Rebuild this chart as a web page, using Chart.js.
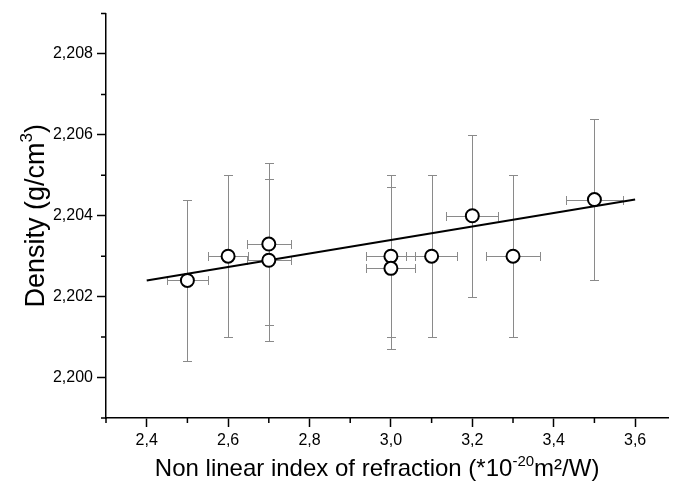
<!DOCTYPE html>
<html><head><meta charset="utf-8">
<script src="https://cdn.jsdelivr.net/npm/chart.js@4.4.1/dist/chart.umd.min.js"></script>
<style>html,body{margin:0;padding:0;background:#fff;} #wrap{width:677px;height:493px;}</style>
</head><body><div id="wrap"><canvas id="c" width="677" height="493"></canvas></div>
<script>
// Data
const nonLinearIndex = [2.5, 2.6, 2.7, 2.7, 3.0, 3.0, 3.1, 3.2, 3.3, 3.5];
const density        = [2.2024, 2.2030, 2.2033, 2.2029, 2.2030, 2.2027, 2.2030, 2.2040, 2.2030, 2.2044];
const densityErr     = [0.002, 0.002, 0.002, 0.002, 0.002, 0.002, 0.002, 0.002, 0.002, 0.002];
const indexErr       = [0.05, 0.05, 0.054, 0.054, 0.06, 0.06, 0.062, 0.064, 0.066, 0.07];
const fitX = [2.4, 3.6];
const fitY = [2.2024, 2.2044];
const xAxisMin = 2.3, xAxisMax = 3.682, xStep = 0.1;
const yAxisMin = 2.199, yAxisMax = 2.209, yStep = 0.001;
// Axis titles: [text, isSuperscript]
const xTitleParts = [['Non linear index of refraction (*10', false], ['-20', true], ['m\u00B2/W)', false]];
const yTitleParts = [['Density (g/cm', false], ['3', true], [')', false]];

const FONT = "'Liberation Sans', Arial, sans-serif";
const isMajorX = v => Math.round(v * 10) % 2 === 0;
const isMajorY = v => Math.round(v * 1000) % 2 === 0;

const errorBars = {
  id: 'errorBars',
  beforeDatasetsDraw(chart) {
    const xs = chart.scales.x, ys = chart.scales.y, ctx = chart.ctx;
    ctx.save();
    ctx.strokeStyle = '#8a8a8a';
    ctx.lineWidth = 1;
    const cap = 4.5;
    const r = v => Math.round(v) + 0.5;
    for (let i = 0; i < nonLinearIndex.length; i++) {
      const px = r(xs.getPixelForValue(nonLinearIndex[i]));
      const py = r(ys.getPixelForValue(density[i]));
      const yt = r(ys.getPixelForValue(density[i] + densityErr[i]));
      const yb = r(ys.getPixelForValue(density[i] - densityErr[i]));
      const xl = r(xs.getPixelForValue(nonLinearIndex[i] - indexErr[i]));
      const xr = r(xs.getPixelForValue(nonLinearIndex[i] + indexErr[i]));
      ctx.beginPath();
      ctx.moveTo(px, yt); ctx.lineTo(px, yb);
      ctx.moveTo(px - cap, yt); ctx.lineTo(px + cap, yt);
      ctx.moveTo(px - cap, yb); ctx.lineTo(px + cap, yb);
      ctx.moveTo(xl, py); ctx.lineTo(xr, py);
      ctx.moveTo(xl, py - cap); ctx.lineTo(xl, py + cap);
      ctx.moveTo(xr, py - cap); ctx.lineTo(xr, py + cap);
      ctx.stroke();
    }
    ctx.restore();
  }
};

const minorTicks = {
  id: 'minorTicks',
  afterDraw(chart) {
    const xs = chart.scales.x, ys = chart.scales.y, ctx = chart.ctx, a = chart.chartArea;
    ctx.save();
    ctx.strokeStyle = '#000';
    ctx.lineWidth = 1.5;
    ctx.beginPath();
    xs.ticks.forEach(t => {
      if (!isMajorX(t.value)) {
        const p = xs.getPixelForValue(t.value);
        ctx.moveTo(p, a.bottom); ctx.lineTo(p, a.bottom + 5);
      }
    });
    ys.ticks.forEach(t => {
      if (!isMajorY(t.value)) {
        const p = ys.getPixelForValue(t.value);
        ctx.moveTo(a.left, p); ctx.lineTo(a.left - 5, p);
      }
    });
    ctx.stroke();
    ctx.restore();
  }
};

function drawRich(ctx, parts, size) {
  const supSize = Math.round(size * 0.62);
  let total = 0;
  const widths = parts.map(([t, sup]) => {
    ctx.font = (sup ? supSize : size) + 'px ' + FONT;
    const w = ctx.measureText(t).width; total += w; return w;
  });
  let x = -total / 2;
  const base = size * 0.36;
  parts.forEach(([t, sup], i) => {
    ctx.font = (sup ? supSize : size) + 'px ' + FONT;
    ctx.fillText(t, x, sup ? base - size * 0.42 : base);
    x += widths[i];
  });
}

const axisTitles = {
  id: 'axisTitles',
  afterDraw(chart) {
    const ctx = chart.ctx, a = chart.chartArea;
    ctx.save();
    ctx.fillStyle = '#000';
    ctx.textBaseline = 'alphabetic';
    ctx.textAlign = 'left';
    ctx.save();
    ctx.translate(a.left + (a.right - a.left) * 0.482, 467);
    drawRich(ctx, xTitleParts, 24);
    ctx.restore();
    ctx.save();
    ctx.translate(34, (a.top + a.bottom) / 2);
    ctx.rotate(-Math.PI / 2);
    drawRich(ctx, yTitleParts, 27);
    ctx.restore();
    ctx.restore();
  }
};

const chart = new Chart(document.getElementById('c'), {
  type: 'scatter',
  data: {
    datasets: [
      {
        label: 'Density',
        data: nonLinearIndex.map((x, i) => ({x, y: density[i]})),
        pointRadius: 6.5,
        pointBorderWidth: 2,
        pointBorderColor: '#000',
        pointBackgroundColor: '#fff',
        order: 0
      },
      {
        label: 'Fit',
        data: fitX.map((x, i) => ({x, y: fitY[i]})),
        showLine: true,
        borderColor: '#000',
        borderWidth: 2,
        pointRadius: 0,
        order: 1
      }
    ]
  },
  options: {
    responsive: false,
    animation: false,
    devicePixelRatio: 1,
    layout: { padding: { top: 13, right: 0, left: 0, bottom: 0 } },
    plugins: { legend: { display: false }, tooltip: { enabled: false } },
    scales: {
      x: {
        type: 'linear',
        min: xAxisMin, max: xAxisMax,
        border: { display: true, color: '#000', width: 1.5 },
        grid: {
          drawOnChartArea: false, drawTicks: true, tickLength: 9, tickWidth: 1.5,
          tickColor: c => (c.tick && isMajorX(c.tick.value)) ? '#000' : 'rgba(0,0,0,0)'
        },
        ticks: {
          stepSize: xStep, includeBounds: false, autoSkip: false, maxRotation: 0,
          padding: 4, color: '#000', font: { family: FONT, size: 16 },
          callback: v => isMajorX(v) ? v.toFixed(1).replace('.', ',') : ''
        },
        title: { display: false },
        afterFit: s => { s.height = 75; s.paddingLeft = 0; s.paddingRight = 0; }
      },
      y: {
        type: 'linear',
        min: yAxisMin, max: yAxisMax,
        border: { display: true, color: '#000', width: 1.5 },
        grid: {
          drawOnChartArea: false, drawTicks: true, tickLength: 9, tickWidth: 1.5,
          tickColor: c => (c.tick && isMajorY(c.tick.value)) ? '#000' : 'rgba(0,0,0,0)'
        },
        ticks: {
          stepSize: yStep, autoSkip: false, padding: 4, color: '#000', font: { family: FONT, size: 16 },
          callback: v => isMajorY(v) ? v.toFixed(3).replace('.', ',') : ''
        },
        title: { display: false },
        afterFit: s => { s.width = 106; s.paddingTop = 0; s.paddingBottom = 0; }
      }
    }
  },
  plugins: [errorBars, minorTicks, axisTitles]
});
// make the plot area run to the right edge of the picture, as in the reference
const dr = 677 - chart.chartArea.right;
const dt = 13.5 - chart.chartArea.top;
if (Math.abs(dr) > 0.5 || Math.abs(dt) > 0.5) {
  chart.options.layout.padding.right -= dr;
  chart.options.layout.padding.top += dt;
  chart.update();
}
</script>
</body></html>
